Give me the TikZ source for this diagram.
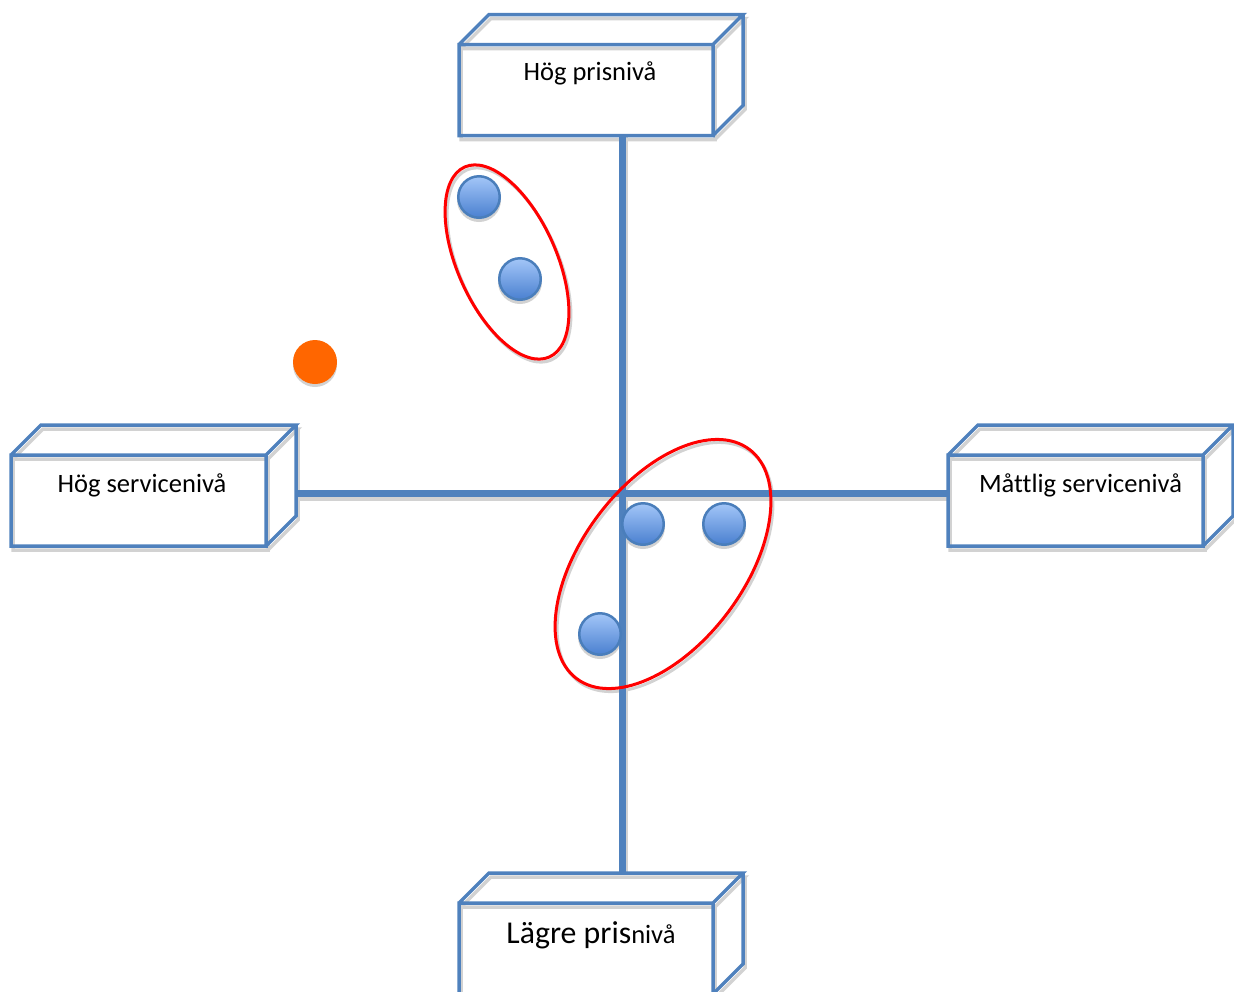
\documentclass[tikz,border=0pt]{standalone}
\usepackage{fontspec}
\setmainfont{Carlito}[Ligatures=NoCommon]
\usetikzlibrary{calc,shapes.geometric}

\definecolor{boxblue}{HTML}{4F81BD}
\definecolor{dotedge}{HTML}{4A7EBB}
\definecolor{dottop}{HTML}{A3C6F8}
\definecolor{dotbottom}{HTML}{4A80D0}
\definecolor{shadowgrey}{HTML}{D2D2D2}
\definecolor{groupred}{HTML}{FF0000}
\definecolor{outlier}{HTML}{FF6600}

\pgfdeclarelayer{shade}
\pgfsetlayers{shade,main}

\tikzset{
  frontface/.style={rectangle, minimum width=255pt, minimum height=91pt,
    inner sep=0pt, outer sep=0pt},
  boxline/.style={draw=boxblue, line width=3.5pt, line join=miter},
  boxshade/.style={draw=shadowgrey, line width=3.5pt, line join=miter},
  boxlabel/.style={font=\fontsize{26.5}{32}\selectfont, inner sep=0pt, anchor=base},
  axisline/.style={draw=boxblue, line width=7pt},
  axisshade/.style={draw=shadowgrey, line width=7pt},
  dot/.style={circle, draw=dotedge, line width=2.5pt, top color=dottop,
    bottom color=dotbottom, minimum size=41.5pt, inner sep=0pt},
  dotshade/.style={circle, fill=shadowgrey, minimum size=44pt, inner sep=0pt},
  odddot/.style={circle, fill=outlier, minimum size=44pt, inner sep=0pt},
  group/.style={ellipse, draw=groupred, line width=3pt, inner sep=0pt},
  groupshade/.style={ellipse, draw=shadowgrey, line width=3pt, inner sep=0pt},
}

% outline of a cuboid: front rectangle, top face and right face
% #1 front node, #2 offset, #3 style
\newcommand\cuboidoutline[3]{%
  \path[#3]
    ($(#1.south west)+(#2)$) rectangle ($(#1.north east)+(#2)$)
    ($(#1.north west)+(#2)$) -- ++(30,-30) -- ($(#1.north east)+(#2)+(30,-30)$)
      -- ($(#1.north east)+(#2)$)
    ($(#1.north east)+(#2)+(30,-30)$) -- ($(#1.south east)+(#2)+(30,-30)$)
      -- ($(#1.south east)+(#2)$);
}

\begin{document}
\begin{tikzpicture}[x=1pt, y=-1pt]
\useasboundingbox (0,0) rectangle (1234,991);
\clip (0,0) rectangle (1234,991);

% the four cuboids
\node[frontface, minimum width=254pt] (top) at (586,90) {};
\node[frontface] (left) at (138.5,500.5) {};
\node[frontface] (right) at (1075.5,500.5) {};
\node[frontface, minimum width=254pt] (bottom) at (586,948.5) {};

% axis end points
\coordinate (vtop) at ($(top.south)+(36,0)$);
\coordinate (vbot) at ($(bottom.north)+(36,-30)$);
\coordinate (hleft) at ($(left.east)+(30,-7.5)$);
\coordinate (hright) at (right.west |- hleft);

% shadows
\begin{pgfonlayer}{shade}
  \foreach \b in {top,left,right,bottom}{\cuboidoutline{\b}{2,4}{boxshade}}
  \draw[axisshade] ($(vtop)+(2,0)$) -- ($(vbot)+(2,0)$);
  \draw[axisshade] ($(hleft)+(0,4)$) -- ($(hright)+(0,4)$);
  \node[groupshade, rotate=-66, minimum width=208pt, minimum height=99pt] at (509,265) {};
  \node[groupshade, rotate=53, minimum width=287pt, minimum height=162pt] at (665,567) {};
  \foreach \p in {(479,200),(520,282),(643,527),(724,527),(600,637),(315,365)}
    \node[dotshade] at \p {};
\end{pgfonlayer}

% axes
\draw[axisline] (vtop) -- (vbot);
\draw[axisline] (hleft) -- (hright);

% cuboid outlines
\foreach \b in {top,left,right,bottom}{\cuboidoutline{\b}{0,0}{boxline}}

% labels
\node[boxlabel] (toplabel) at ($(top.north)+(4,36)$) {Hög prisnivå};
\node[boxlabel] (leftlabel) at ($(left.north)+(3.5,37)$) {Hög servicenivå};
\node[boxlabel] (rightlabel) at ($(right.north)+(5,37)$) {Måttlig servicenivå};
\node[boxlabel] (bottomlabel) at ($(bottom.north)+(5,40)$)
  {{\fontsize{31.8}{38}\selectfont Lägre pris}nivå};

% groups
\node[group, rotate=-66, minimum width=208pt, minimum height=99pt] (group1) at (507,262) {};
\node[group, rotate=53, minimum width=287pt, minimum height=162pt] (group2) at (663,564) {};

% data points
\node[dot] (p1) at (479,197) {};
\node[dot] (p2) at (520,279) {};
\node[dot] (p3) at (643,524) {};
\node[dot] (p4) at (724,524) {};
\node[dot] (p5) at (600,634) {};
\node[odddot] (p6) at (315,362) {};
\end{tikzpicture}
\end{document}
